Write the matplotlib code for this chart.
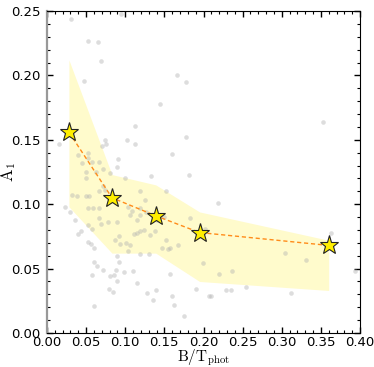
import matplotlib
matplotlib.use("Agg")
import matplotlib.pyplot as plt
from matplotlib.ticker import MultipleLocator

plt.rcParams['mathtext.fontset'] = 'cm'

# Scatter of individual galaxies
pts_x = [0.031, 0.094, 0.053, 0.065, 0.069, 0.047, 0.166, 0.177, 0.144, 0.112,
         0.353, 0.178, 0.102, 0.074, 0.075, 0.070, 0.113, 0.015, 0.052, 0.040,
         0.052, 0.091, 0.067, 0.058, 0.160, 0.045, 0.090, 0.071, 0.050, 0.081,
         0.062, 0.181, 0.133, 0.100, 0.050, 0.072, 0.074, 0.119, 0.152, 0.066,
         0.125, 0.218, 0.023, 0.030, 0.032, 0.038, 0.050, 0.054, 0.036, 0.043,
         0.040, 0.053, 0.056, 0.060, 0.052, 0.059, 0.066, 0.066, 0.069, 0.053,
         0.058, 0.078, 0.089, 0.087, 0.092, 0.093, 0.101, 0.111, 0.115, 0.119,
         0.124, 0.132, 0.138, 0.119, 0.130, 0.115, 0.108, 0.119, 0.127, 0.104,
         0.106, 0.119, 0.149, 0.183, 0.140, 0.152, 0.147, 0.157, 0.168, 0.106,
         0.104, 0.089, 0.155, 0.202, 0.363, 0.199, 0.220, 0.236, 0.254, 0.229,
         0.235, 0.191, 0.207, 0.210, 0.175, 0.304, 0.331, 0.312, 0.394, 0.060,
         0.064, 0.058, 0.072, 0.081, 0.085, 0.088, 0.092, 0.098, 0.089, 0.079,
         0.084, 0.060, 0.110, 0.115, 0.157, 0.128, 0.139, 0.136, 0.160, 0.162]
pts_y = [0.244, 0.248, 0.227, 0.226, 0.211, 0.196, 0.200, 0.195, 0.178, 0.161,
         0.164, 0.152, 0.150, 0.150, 0.147, 0.145, 0.147, 0.147, 0.140, 0.138,
         0.136, 0.135, 0.133, 0.133, 0.139, 0.132, 0.129, 0.127, 0.125, 0.124,
         0.125, 0.123, 0.122, 0.120, 0.120, 0.114, 0.111, 0.110, 0.110, 0.110,
         0.103, 0.101, 0.098, 0.094, 0.107, 0.106, 0.106, 0.106, 0.088, 0.079,
         0.077, 0.071, 0.069, 0.066, 0.097, 0.097, 0.097, 0.089, 0.085, 0.084,
         0.081, 0.086, 0.086, 0.072, 0.075, 0.069, 0.070, 0.077, 0.078, 0.079,
         0.080, 0.076, 0.079, 0.061, 0.061, 0.088, 0.095, 0.097, 0.094, 0.098,
         0.092, 0.092, 0.090, 0.089, 0.088, 0.072, 0.066, 0.066, 0.068, 0.068,
         0.064, 0.060, 0.065, 0.081, 0.078, 0.054, 0.046, 0.048, 0.036, 0.033,
         0.033, 0.034, 0.029, 0.029, 0.013, 0.062, 0.057, 0.031, 0.048, 0.055,
         0.052, 0.045, 0.049, 0.044, 0.045, 0.049, 0.055, 0.047, 0.040, 0.034,
         0.032, 0.021, 0.048, 0.039, 0.046, 0.031, 0.033, 0.026, 0.029, 0.022]

# Binned medians and spread
bin_x = [0.028, 0.083, 0.139, 0.195, 0.360]
bin_y = [0.156, 0.105, 0.091, 0.078, 0.068]
band_lo = [0.098, 0.062, 0.062, 0.040, 0.033]
band_hi = [0.212, 0.123, 0.115, 0.094, 0.072]

fig = plt.figure(figsize=(3.74, 3.67), dpi=100)
ax = fig.add_axes([47/374, 1-333/367, (360-47)/374, (333-11)/367])

ax.fill_between(bin_x, band_lo, band_hi, color='#fffac0', alpha=0.8,
                linewidth=0, zorder=1)
ax.scatter(pts_x, pts_y, s=11, color='#b0b0b0', alpha=0.42,
           linewidths=0, zorder=2)
ax.plot(bin_x, bin_y, linestyle=(0, (3, 2)), color='#ff8c1a', lw=1.0, zorder=3)
ax.plot(bin_x, bin_y, linestyle='none', marker='*', ms=14,
        markerfacecolor='#ffee00', markeredgecolor='#222222',
        markeredgewidth=0.8, zorder=4)

ax.set_xlim(0.0, 0.40)
ax.set_ylim(0.0, 0.25)
ax.xaxis.set_major_locator(MultipleLocator(0.05))
ax.xaxis.set_minor_locator(MultipleLocator(0.01))
ax.yaxis.set_major_locator(MultipleLocator(0.05))
ax.yaxis.set_minor_locator(MultipleLocator(0.01))
ax.xaxis.set_major_formatter(plt.FormatStrFormatter('%.2f'))
ax.yaxis.set_major_formatter(plt.FormatStrFormatter('%.2f'))
ax.tick_params(which='both', direction='in', top=True, right=True,
               labelsize=9.5)
ax.tick_params(axis='x', which='major', pad=2.5)
ax.tick_params(axis='y', which='major', pad=4.5)
ax.tick_params(which='major', length=4, width=1.0)
ax.tick_params(which='minor', length=2, width=0.8)
ax.spines['left'].set_color('#999999')
ax.spines['left'].set_linewidth(1.6)

ax.set_xlabel(r'$\mathrm{B/T_{phot}}$', fontsize=11)
ax.set_ylabel(r'$\mathrm{A_1}$', fontsize=12)
ax.xaxis.set_label_coords(0.5, -0.044)
ax.yaxis.set_label_coords(-0.092, 0.5)

fig.savefig('out.png', dpi=100)
